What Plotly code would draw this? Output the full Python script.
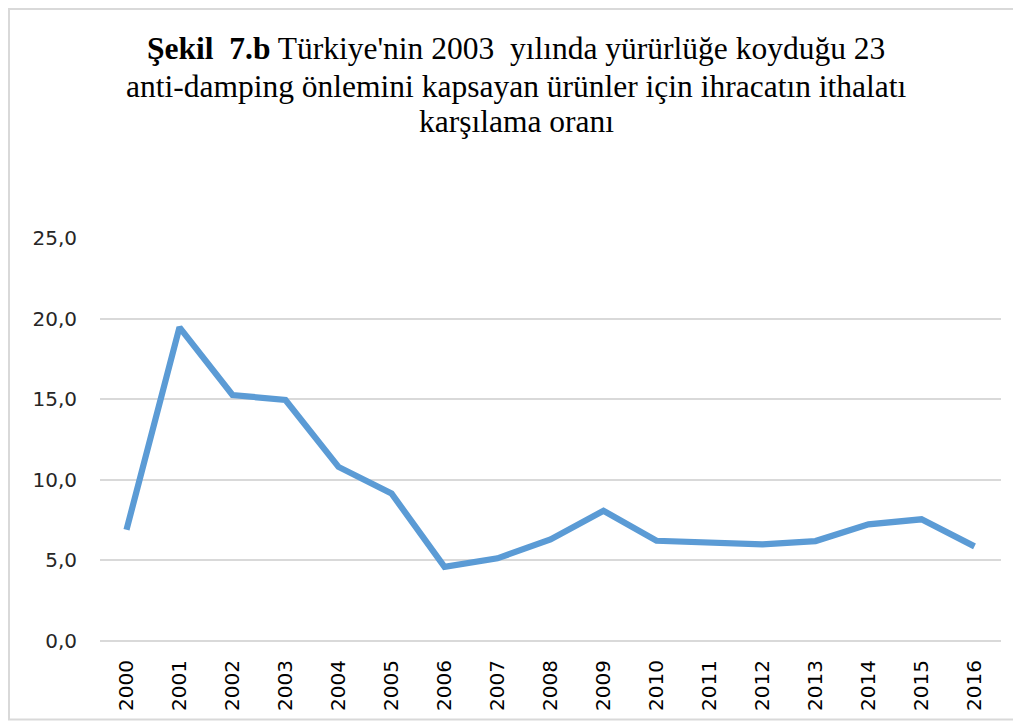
import plotly.graph_objects as go

years = [str(y) for y in range(2000, 2017)]
values = [6.9, 19.46, 15.26, 14.95, 10.8, 9.15, 4.6, 5.13, 6.3, 8.08,
          6.22, 6.1, 6.0, 6.2, 7.24, 7.55, 5.87]
y_ticks = [0, 5, 10, 15, 20, 25]
y_tick_labels = ["0,0", "5,0", "10,0", "15,0", "20,0", "25,0"]

title_lines = [
    "<b>Şekil  7.b</b> Türkiye'nin 2003  yılında yürürlüğe koyduğu 23",
    "anti-damping önlemini kapsayan ürünler için ihracatın ithalatı",
    "karşılama oranı",
]

# the page body adds an 8px offset; work in figure pixel coordinates
OFF = 8
W, H = 1021 - OFF, 722 - OFF
PLOT_TOP, PLOT_BOTTOM = 238 - OFF, 641 - OFF
PLOT_LEFT, PLOT_RIGHT = 100 - OFF, 1001 - OFF
ph = PLOT_BOTTOM - PLOT_TOP
pw = PLOT_RIGHT - PLOT_LEFT
title_centers_px = [48 - OFF, 86 - OFF, 121 - OFF]
title_center_x = 516 - OFF

fig = go.Figure()
fig.add_trace(go.Scatter(
    x=years, y=values, mode="lines",
    line=dict(color="#5B9BD5", width=6.2),
    hoverinfo="x+y", showlegend=False,
))

annotations = []
for txt, cy in zip(title_lines, title_centers_px):
    annotations.append(dict(
        text=txt, xref="paper", yref="paper",
        x=(title_center_x - PLOT_LEFT) / pw, y=(PLOT_BOTTOM - cy) / ph,
        xanchor="center", yanchor="middle", showarrow=False,
        font=dict(family="Liberation Serif", size=31.5, color="#000000"),
    ))

fig.update_layout(
    width=W, height=H,
    paper_bgcolor="white", plot_bgcolor="white",
    margin=dict(l=PLOT_LEFT, r=W - PLOT_RIGHT, t=PLOT_TOP, b=H - PLOT_BOTTOM),
    annotations=annotations,
    xaxis=dict(type="category", range=[-0.5, len(years) - 0.5], tickangle=-90,
               showgrid=False, showline=False, automargin=False,
               ticks="", tickfont=dict(family="DejaVu Sans", size=20, color="#000000"),
               ticklabelstandoff=14),
    yaxis=dict(range=[0, 25], tickvals=y_ticks, ticktext=y_tick_labels, automargin=False,
               showgrid=True, gridcolor="#D9D9D9", gridwidth=2, zeroline=True,
               zerolinecolor="#D9D9D9", zerolinewidth=2, showline=False, ticks="",
               tickfont=dict(family="DejaVu Sans", size=20, color="#262626"),
               ticklabelstandoff=22),
    shapes=[dict(type="rect", xref="paper", yref="paper",
                 x0=(1 - PLOT_LEFT) / pw, x1=1.1,
                 y0=(PLOT_BOTTOM - 711.5) / ph, y1=(PLOT_BOTTOM - 1) / ph,
                 line=dict(color="#D9D9D9", width=2), fillcolor="rgba(0,0,0,0)", layer="below")],
)

fig.write_html("out.html")
